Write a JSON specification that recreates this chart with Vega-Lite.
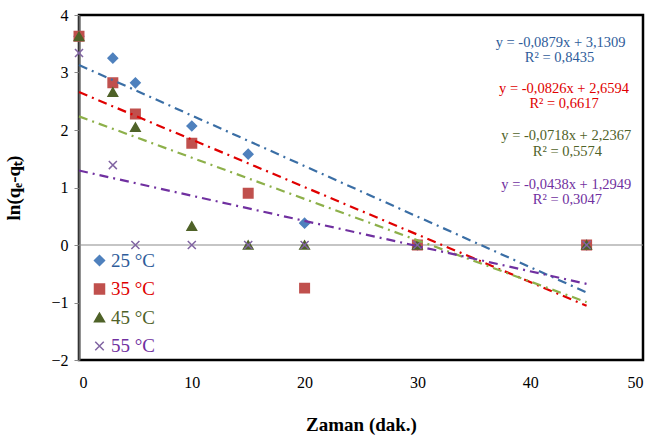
{
  "$schema": "https://vega.github.io/schema/vega-lite/v6.json",
  "width": 564,
  "height": 345,
  "autosize": {"type": "none"},
  "padding": {"left": 79, "top": 15, "right": 11, "bottom": 77},
  "background": "white",
  "config": {
    "view": {"stroke": "black", "strokeWidth": 2.5},
    "font": "Liberation Serif",
    "text": {"font": "Liberation Serif"},
    "legend": {"labelFont": "Liberation Serif", "titleFont": "Liberation Serif"},
    "axis": {"labelFont": "Liberation Serif", "titleFont": "Liberation Serif", "grid": false, "labelColor": "#000", "titleColor": "#000"}
  },
  "datasets": {
    "pts": [
      {"x": 0, "y": 3.63, "s": "25 °C"}, {"x": 3, "y": 3.25, "s": "25 °C"}, {"x": 5, "y": 2.82, "s": "25 °C"}, {"x": 10, "y": 2.07, "s": "25 °C"}, {"x": 15, "y": 1.58, "s": "25 °C"}, {"x": 20, "y": 0.38, "s": "25 °C"}, {"x": 30, "y": 0, "s": "25 °C"}, {"x": 45, "y": 0, "s": "25 °C"},
      {"x": 0, "y": 3.63, "s": "35 °C"}, {"x": 3, "y": 2.82, "s": "35 °C"}, {"x": 5, "y": 2.28, "s": "35 °C"}, {"x": 10, "y": 1.77, "s": "35 °C"}, {"x": 15, "y": 0.9, "s": "35 °C"}, {"x": 20, "y": -0.75, "s": "35 °C"}, {"x": 30, "y": 0, "s": "35 °C"}, {"x": 45, "y": 0, "s": "35 °C"},
      {"x": 0, "y": 3.63, "s": "45 °C"}, {"x": 3, "y": 2.66, "s": "45 °C"}, {"x": 5, "y": 2.05, "s": "45 °C"}, {"x": 10, "y": 0.33, "s": "45 °C"}, {"x": 15, "y": 0, "s": "45 °C"}, {"x": 20, "y": 0, "s": "45 °C"}, {"x": 30, "y": 0, "s": "45 °C"}, {"x": 45, "y": 0, "s": "45 °C"},
      {"x": 0, "y": 3.34, "s": "55 °C"}, {"x": 3, "y": 1.39, "s": "55 °C"}, {"x": 5, "y": 0, "s": "55 °C"}, {"x": 10, "y": 0, "s": "55 °C"}, {"x": 15, "y": 0, "s": "55 °C"}, {"x": 20, "y": 0, "s": "55 °C"}, {"x": 30, "y": 0, "s": "55 °C"}, {"x": 45, "y": 0, "s": "55 °C"}
    ],
    "trend": [
      {"x": 0, "y": 3.1309, "s": "25 °C"}, {"x": 45, "y": -0.8246, "s": "25 °C"},
      {"x": 0, "y": 2.6594, "s": "35 °C"}, {"x": 45, "y": -1.0576, "s": "35 °C"},
      {"x": 0, "y": 2.2367, "s": "45 °C"}, {"x": 45, "y": -0.9943, "s": "45 °C"},
      {"x": 0, "y": 1.2949, "s": "55 °C"}, {"x": 45, "y": -0.6761, "s": "55 °C"}
    ],
    "eq": [
      {"x": 42.7, "y": 3.52, "t": "y = -0,0879x + 3,1309", "s": "25 °C"},
      {"x": 42.6, "y": 3.25, "t": "R² = 0,8435", "s": "25 °C"},
      {"x": 43.0, "y": 2.72, "t": "y = -0,0826x + 2,6594", "s": "35 °C"},
      {"x": 43.0, "y": 2.45, "t": "R² = 0,6617", "s": "35 °C"},
      {"x": 43.2, "y": 1.89, "t": "y = -0,0718x + 2,2367", "s": "45 °C"},
      {"x": 43.3, "y": 1.62, "t": "R² = 0,5574", "s": "45 °C"},
      {"x": 43.2, "y": 1.05, "t": "y = -0,0438x + 1,2949", "s": "55 °C"},
      {"x": 43.3, "y": 0.78, "t": "R² = 0,3047", "s": "55 °C"}
    ],
    "zero": [{"y": 0}]
  },
  "resolve": {"scale": {"color": "independent", "stroke": "independent", "shape": "independent"}, "legend": {"color": "independent", "stroke": "independent", "shape": "independent"}},
  "layer": [
    {
      "data": {"name": "zero"},
      "mark": {"type": "rule", "color": "#8c8c8c", "strokeWidth": 1.2},
      "encoding": {"y": {"field": "y", "type": "quantitative", "scale": {"domain": [-2, 4]}}}
    },
    {
      "data": {"name": "pts"},
      "mark": {"type": "point", "filled": true, "opacity": 1, "strokeWidth": 1.5},
      "encoding": {
        "x": {"field": "x", "type": "quantitative", "scale": {"domain": [0, 50]},
          "axis": {"values": [0, 10, 20, 30, 40, 50], "format": "d", "title": "Zaman (dak.)", "titleFont": "Liberation Serif", "labelFont": "Liberation Serif", "titleFontSize": 19, "titleFontWeight": "bold", "labelFontSize": 16, "domain": false, "ticks": false, "labelPadding": 14, "titlePadding": 25}},
        "y": {"field": "y", "type": "quantitative", "scale": {"domain": [-2, 4]},
          "axis": {"values": [-2, -1, 0, 1, 2, 3, 4], "format": "d", "title": "ln(qₑ-qₜ)", "titleFont": "Liberation Serif", "labelFont": "Liberation Serif", "titleFontSize": 19, "titleFontWeight": "bold", "labelFontSize": 16, "domainColor": "#666", "domainWidth": 2, "tickColor": "#888", "tickSize": 5, "labelPadding": 6, "titlePadding": 27}},
        "color": {"field": "s", "type": "nominal", "scale": {"domain": ["25 °C", "35 °C", "45 °C", "55 °C"], "range": ["#4F81BD", "#C0504D", "#4F6228", "#8064A2"]},
          "legend": {"title": null, "orient": "none", "legendX": 11, "legendY": 236, "labelFontSize": 19, "labelFont": "Liberation Serif", "symbolSize": 100, "rowPadding": 8.5, "labelOffset": 2,
            "labelColor": {"expr": "datum.value == '25 °C' ? '#2E5C9A' : datum.value == '35 °C' ? '#E00000' : datum.value == '45 °C' ? '#4F6228' : '#7030A0'"}}},
        "stroke": {"field": "s", "type": "nominal", "scale": {"domain": ["25 °C", "35 °C", "45 °C", "55 °C"], "range": ["#4F81BD", "#C0504D", "#4F6228", "#8064A2"]}, "legend": null},
        "shape": {"field": "s", "type": "nominal", "scale": {"domain": ["25 °C", "35 °C", "45 °C", "55 °C"], "range": ["diamond", "square", "triangle-up", "M-0.85,-0.85L0.85,0.85M-0.85,0.85L0.85,-0.85"]}, "legend": null},
        "size": {"value": 90}
      }
    },
    {
      "data": {"name": "trend"},
      "mark": {"type": "line", "strokeWidth": 2.2, "strokeDash": [9, 5, 2, 5]},
      "encoding": {
        "x": {"field": "x", "type": "quantitative"},
        "y": {"field": "y", "type": "quantitative"},
        "color": {"field": "s", "type": "nominal", "legend": null, "scale": {"domain": ["25 °C", "35 °C", "45 °C", "55 °C"], "range": ["#3A6EA5", "#E00000", "#8DB04A", "#7030A0"]}}
      }
    },
    {
      "data": {"name": "eq"},
      "mark": {"type": "text", "font": "Liberation Serif", "fontSize": 14.5, "align": "center", "baseline": "middle"},
      "encoding": {
        "x": {"field": "x", "type": "quantitative"},
        "y": {"field": "y", "type": "quantitative"},
        "text": {"field": "t"},
        "color": {"field": "s", "type": "nominal", "legend": null, "scale": {"domain": ["25 °C", "35 °C", "45 °C", "55 °C"], "range": ["#2E5C9A", "#E00000", "#4F6228", "#7030A0"]}}
      }
    }
  ]
}
